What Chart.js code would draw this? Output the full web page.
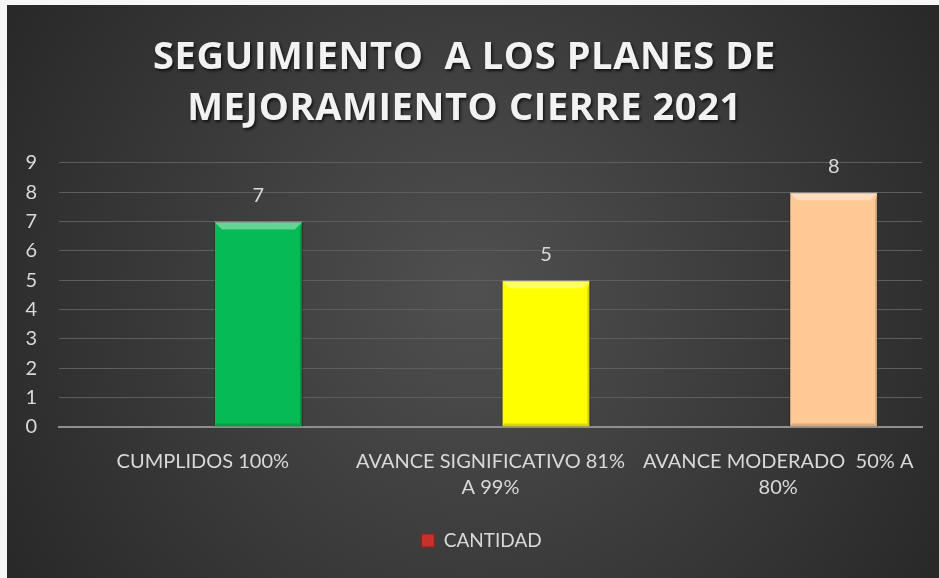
<!DOCTYPE html>
<html>
<head>
<meta charset="utf-8">
<script src="https://cdn.jsdelivr.net/npm/chart.js@4.4.1/dist/chart.umd.min.js"></script>
<style>
  html, body { margin: 0; padding: 0; background: #f7f7f7; width: 939px; height: 578px; overflow: hidden; }
  #wrap { position: absolute; left: 7px; top: 5px; width: 932px; height: 573px; }
</style>
</head>
<body>
<div id="wrap"><canvas id="c" width="932" height="573"></canvas></div>
<script>
const titleLines = ['SEGUIMIENTO  A LOS PLANES DE', 'MEJORAMIENTO CIERRE 2021'];
const categories = [['CUMPLIDOS 100%'], ['AVANCE SIGNIFICATIVO 81%', 'A 99%'], ['AVANCE MODERADO  50% A', '80%']];
const seriesName = 'CANTIDAD';
const values = [7, 5, 8];
const emptySeries = [null, null, null];
const barColors = ['#06bb55', '#ffff00', '#ffc995'];
const yTicks = [0, 1, 2, 3, 4, 5, 6, 7, 8, 9];

const FONT = 'Lato, "Open Sans", sans-serif';
const TXT = '#d9d9d9';

const bgPlugin = {
  id: 'bg',
  beforeDraw(chart) {
    const { ctx, width, height } = chart;
    const g = ctx.createRadialGradient(width * 0.5, height * 0.5, 10, width * 0.5, height * 0.5, width * 0.62);
    g.addColorStop(0, '#4f4f4f');
    g.addColorStop(1, '#262626');
    ctx.save();
    ctx.fillStyle = g;
    ctx.fillRect(0, 0, width, height);
    ctx.restore();
  }
};

const titleStylePlugin = {
  id: 'titleStyle',
  afterLayout(chart) {
    const tb = chart.titleBlock;
    if (tb && !tb._wrapped) {
      const orig = tb.draw.bind(tb);
      tb.draw = function () {
        const ctx = chart.ctx;
        ctx.save();
        ctx.letterSpacing = '0.6px';
        ctx.shadowColor = 'rgba(0,0,0,0.7)';
        ctx.shadowBlur = 3;
        ctx.shadowOffsetX = 1.5;
        ctx.shadowOffsetY = 2;
        orig();
        ctx.restore();
      };
      tb._wrapped = true;
    }
    if (chart.legend) {
      chart.legend.left += 17;
      chart.legend.right += 17;
    }
  }
};

const bevelPlugin = {
  id: 'bevel',
  afterDatasetsDraw(chart) {
    const { ctx } = chart;
    const meta = chart.getDatasetMeta(1);
    ctx.save();
    meta.data.forEach((bar, i) => {
      const left = bar.x - bar.width / 2, right = bar.x + bar.width / 2;
      const top = bar.y, bottom = bar.base;
      const b = 8;
      ctx.fillStyle = 'rgba(255,255,255,0.38)';
      ctx.beginPath();
      ctx.moveTo(left, top); ctx.lineTo(right, top); ctx.lineTo(right - b, top + b); ctx.lineTo(left + b, top + b); ctx.closePath(); ctx.fill();
      ctx.fillStyle = 'rgba(0,0,0,0.18)';
      ctx.beginPath();
      ctx.moveTo(right, top); ctx.lineTo(right, bottom); ctx.lineTo(right - 3, bottom - 3); ctx.lineTo(right - 3, top + b); ctx.closePath(); ctx.fill();
      ctx.fillStyle = 'rgba(0,0,0,0.15)';
      ctx.beginPath();
      ctx.moveTo(left, bottom); ctx.lineTo(right, bottom); ctx.lineTo(right - 3, bottom - 3); ctx.lineTo(left + 3, bottom - 3); ctx.closePath(); ctx.fill();
      ctx.fillStyle = TXT;
      ctx.font = '20px ' + FONT;
      ctx.textAlign = 'center';
      ctx.textBaseline = 'middle';
      ctx.fillText(String(chart.data.datasets[1].data[i]), bar.x, top - 26);
    });
    ctx.restore();
  }
};

new Chart(document.getElementById('c'), {
  type: 'bar',
  data: {
    labels: categories,
    datasets: [{
      label: '',
      data: emptySeries,
      backgroundColor: 'rgba(0,0,0,0)',
      categoryPercentage: 0.772,
      barPercentage: 0.80
    }, {
      label: seriesName,
      data: values,
      backgroundColor: barColors,
      borderColor: 'rgba(0,0,0,0.25)',
      borderWidth: 1,
      categoryPercentage: 0.772,
      barPercentage: 0.80
    }]
  },
  options: {
    responsive: false,
    animation: false,
    layout: { padding: { top: 0, right: 17, left: 0, bottom: 18 } },
    plugins: {
      title: {
        display: true,
        text: titleLines,
        color: '#f2f2f2',
        font: { family: '"Open Sans", sans-serif', size: 38, weight: 'bold', lineHeight: 1.34 },
        padding: { top: 28, bottom: 28 }
      },
      legend: {
        position: 'bottom',
        labels: {
          color: TXT,
          font: { family: FONT, size: 19 },
          boxWidth: 13,
          boxHeight: 13,
          padding: 8,
          generateLabels: () => [{ text: seriesName, fillStyle: '#c7302b', strokeStyle: '#8a1e1a', lineWidth: 1, hidden: false, fontColor: TXT, datasetIndex: 1 }]
        }
      },
      tooltip: { enabled: false }
    },
    scales: {
      x: {
        grid: { display: false, drawTicks: false },
        border: { color: '#8f8f8f', width: 2 },
        ticks: { color: TXT, font: { family: FONT, size: 20, lineHeight: 1.3 }, padding: 22, maxRotation: 0, autoSkip: false },
        afterFit(s) { s.height = 96; }
      },
      y: {
        min: 0, max: 9,
        afterBuildTicks(s) { s.ticks = yTicks.map(v => ({ value: v })); },
        grid: { color: '#5e5e5e', lineWidth: 1, drawTicks: false },
        border: { display: false },
        ticks: { color: TXT, font: { family: FONT, size: 20 }, padding: 22 },
        afterFit(s) { s.width = 52; }
      }
    }
  },
  plugins: [bgPlugin, titleStylePlugin, bevelPlugin]
});
</script>
</body>
</html>
